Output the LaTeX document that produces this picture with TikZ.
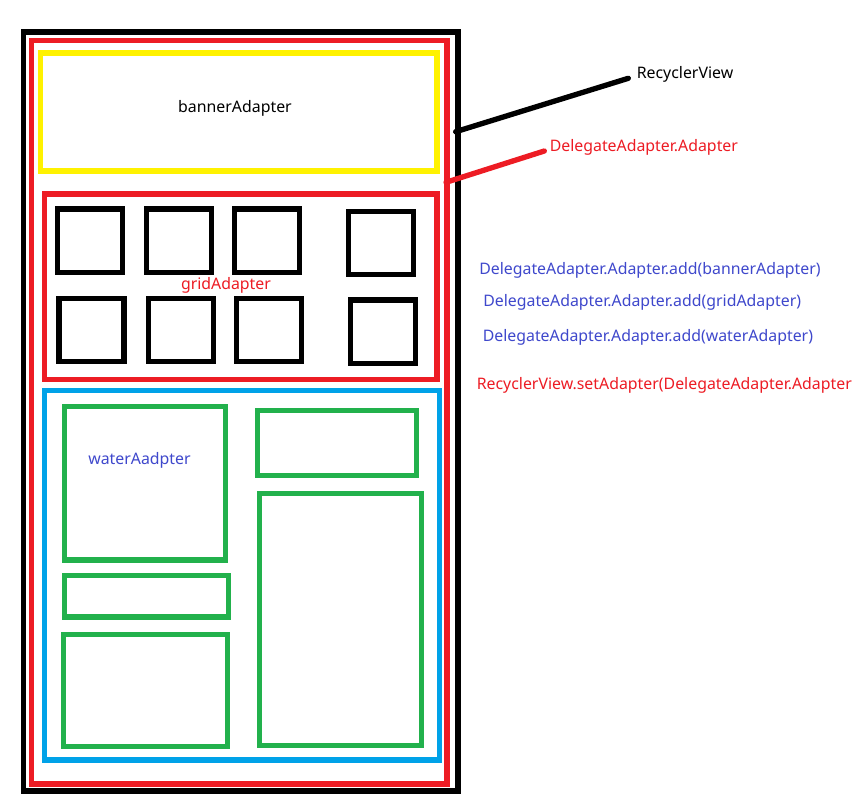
\documentclass[tikz,border=0pt]{standalone}
\usepackage{fontspec}
\setmainfont{Noto Sans}
\definecolor{pred}{HTML}{ED1C24}
\definecolor{pyellow}{HTML}{FFF200}
\definecolor{pblue}{HTML}{00A2E8}
\definecolor{pgreen}{HTML}{22B14C}
\definecolor{ptext}{HTML}{3F48CC}
\begin{document}
\begin{tikzpicture}[x=0.75pt,y=-0.75pt,
  blackbox/.style={draw=black,line width=4pt},
  redbox/.style={draw=pred,line width=4pt},
  yellowbox/.style={draw=pyellow,line width=4pt},
  bluebox/.style={draw=pblue,line width=4pt},
  greenbox/.style={draw=pgreen,line width=4pt},
  cell/.style={draw=black,line width=4pt},
  lbl/.style={font=\fontsize{11.9pt}{14pt}\selectfont,inner sep=0pt},
  conn/.style={line width=4pt,line cap=round}]
\useasboundingbox[fill=white] (0,0) rectangle (853,806);
% outer frames
\draw[blackbox] (23.5,32) rectangle (458,791);
\draw[redbox] (31.5,40.5) rectangle (447,784);
% banner
\draw[yellowbox] (40.5,53) rectangle (437,171);
\node[lbl,text=black] (banner) at (235,108) {bannerAdapter};
% grid
\draw[redbox] (44.5,194) rectangle (437,379.5);
\draw[cell] (57.5,209) rectangle (122.5,272.5);
\draw[cell] (146.5,209) rectangle (211.5,272.5);
\draw[cell] (234.5,209) rectangle (299.5,272.5);
\draw[cell] (348.5,211.5) rectangle (413.5,274.5);
\draw[cell] (59,298.5) rectangle (124,361.5);
\draw[cell] (148.5,298.5) rectangle (213.5,361.5);
\draw[cell] (236.5,298.5) rectangle (301.5,361.5);
\draw[cell] (350.5,300) rectangle (415.5,363.5);
\node[lbl,text=pred] (grid) at (226,285.5) {gridAdapter};
% water
\draw[bluebox] (44.7,390.7) rectangle (439.3,760);
\draw[greenbox] (64.5,406.5) rectangle (225.5,560);
\draw[greenbox] (257.5,410.5) rectangle (416.5,475.5);
\draw[greenbox] (64.5,575.5) rectangle (228.5,617);
\draw[greenbox] (63.5,634.5) rectangle (227.5,746.5);
\draw[greenbox] (259.5,493.5) rectangle (421.5,745.5);
\node[lbl,text=ptext] (water) at (139.5,460) {waterAadpter};
% labels and connectors
\node[lbl,text=black,anchor=west] (rv) at (636.5,74) {RecyclerView};
\node[lbl,text=pred,anchor=west] (da) at (549.5,147) {DelegateAdapter.Adapter};
\coordinate (rvStart) at (455.7,131.7);
\coordinate (rvEnd) at (628.3,78.3);
\coordinate (daStart) at (446,182.3);
\coordinate (daEnd) at (544.3,151);
\draw[conn,black] (rvStart) -- (rvEnd);
\draw[conn,pred] (daStart) -- (daEnd);
\node[lbl,text=ptext,anchor=west] (add1) at (479,270) {DelegateAdapter.Adapter.add(bannerAdapter)};
\node[lbl,text=ptext,anchor=west] (add2) at (483,302.5) {DelegateAdapter.Adapter.add(gridAdapter)};
\node[lbl,text=ptext,anchor=west] (add3) at (482.5,337.5) {DelegateAdapter.Adapter.add(waterAdapter)};
\node[lbl,text=pred,anchor=west] (set) at (476.5,385.5) {RecyclerView.setAdapter(DelegateAdapter.Adapter};
\end{tikzpicture}
\end{document}
